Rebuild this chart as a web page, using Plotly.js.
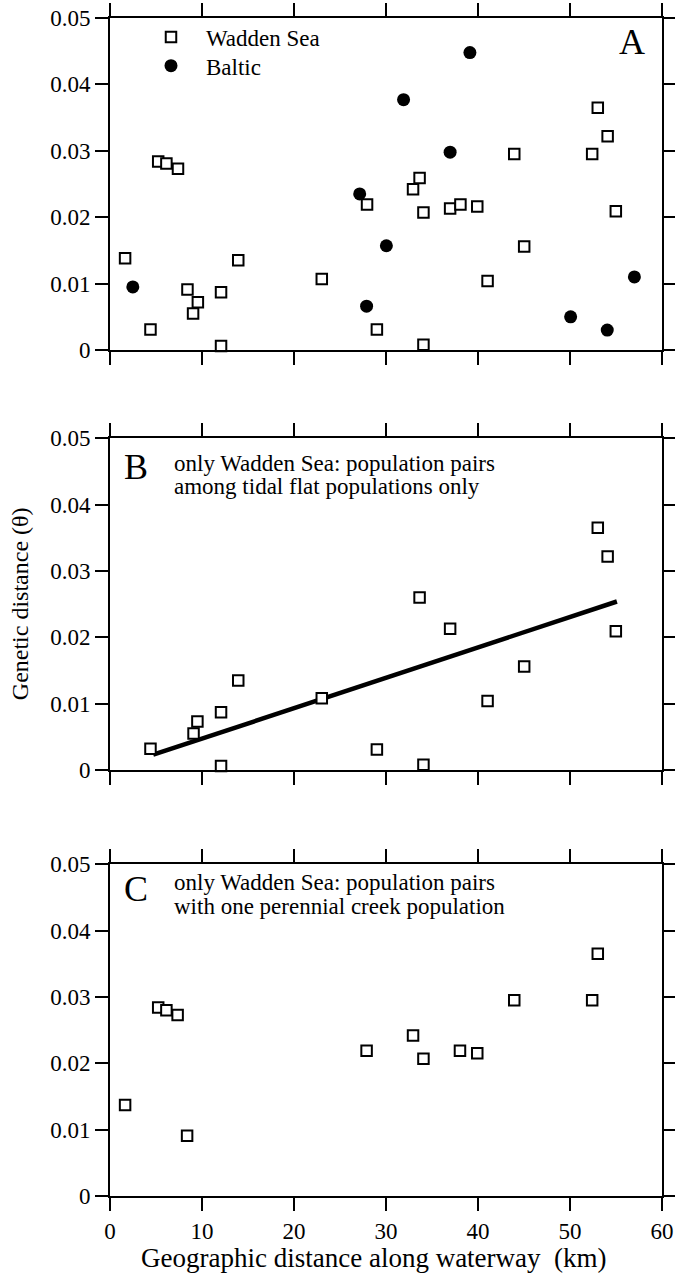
<!DOCTYPE html>
<html>
<head>
<meta charset="utf-8">
<script src="https://cdn.plot.ly/plotly-3.0.1.min.js"></script>
<style>
html,body{margin:0;padding:0;background:#fff;}
#chart{width:675px;height:1276px;}
</style>
</head>
<body>
<div id="chart"></div>
<script>
// ---- data ----
const xTickVals = [0, 10, 20, 30, 40, 50, 60];
const yTickVals = [0, 0.01, 0.02, 0.03, 0.04, 0.05];
const yTickText = ["0", "0.01", "0.02", "0.03", "0.04", "0.05"];

// Panel A: all pairs
const waddenA_km = [1.64, 4.40, 5.24, 6.13, 7.39, 8.42, 9.03, 9.55, 12.07, 12.07, 13.94, 23.02, 27.94, 29.01, 32.94, 33.65, 34.07, 34.07, 36.97, 38.09, 39.92, 41.04, 43.94, 45.02, 52.41, 53.02, 54.09, 54.98];
const waddenA_theta = [0.0138, 0.0031, 0.0284, 0.0281, 0.0273, 0.0091, 0.0055, 0.0072, 0.0087, 0.0006, 0.0135, 0.0107, 0.0219, 0.0031, 0.0242, 0.0259, 0.0207, 0.0008, 0.0213, 0.0219, 0.0216, 0.0104, 0.0295, 0.0156, 0.0295, 0.0365, 0.0322, 0.0209];
const balticA_km = [2.48, 27.14, 27.89, 30.04, 31.91, 36.97, 39.12, 50.07, 54.05, 57.0];
const balticA_theta = [0.0095, 0.0235, 0.0066, 0.0157, 0.0377, 0.0298, 0.0448, 0.0050, 0.0030, 0.0110];

// Panel B: tidal flat pairs only
const tidalB_km = [4.40, 9.08, 9.50, 12.07, 12.07, 13.94, 23.02, 29.01, 33.65, 34.07, 36.97, 41.04, 45.02, 53.02, 54.09, 54.98];
const tidalB_theta = [0.0032, 0.0055, 0.0073, 0.0087, 0.0006, 0.0135, 0.0108, 0.0031, 0.0260, 0.0008, 0.0213, 0.0104, 0.0156, 0.0365, 0.0322, 0.0209];
const fitB_km = [4.7, 55.1];
const fitB_theta = [0.0023, 0.0254];

// Panel C: pairs with one perennial creek population
const creekC_km = [1.64, 5.24, 6.13, 7.35, 8.38, 27.89, 32.94, 34.07, 38.04, 39.92, 43.94, 52.41, 53.02];
const creekC_theta = [0.0137, 0.0284, 0.0280, 0.0273, 0.0091, 0.0219, 0.0242, 0.0207, 0.0219, 0.0215, 0.0295, 0.0295, 0.0365];

// ---- styling ----
const FONT = "Liberation Serif";
const sq = {symbol: "square", size: 10.5, color: "#ffffff", line: {color: "#000", width: 2}};
const dot = {symbol: "circle", size: 13, color: "#000", line: {width: 0}};

const traces = [
  {x: waddenA_km, y: waddenA_theta, type: "scatter", mode: "markers", name: "Wadden Sea", marker: sq, xaxis: "x", yaxis: "y", cliponaxis: false, legend: "legend"},
  {x: balticA_km, y: balticA_theta, type: "scatter", mode: "markers", name: "Baltic", marker: dot, xaxis: "x", yaxis: "y", cliponaxis: false, legend: "legend2"},
  {x: fitB_km, y: fitB_theta, type: "scatter", mode: "lines", line: {color: "#000", width: 4.5}, xaxis: "x2", yaxis: "y2", showlegend: false},
  {x: tidalB_km, y: tidalB_theta, type: "scatter", mode: "markers", marker: sq, xaxis: "x2", yaxis: "y2", showlegend: false, cliponaxis: false},
  {x: creekC_km, y: creekC_theta, type: "scatter", mode: "markers", marker: sq, xaxis: "x3", yaxis: "y3", showlegend: false, cliponaxis: false}
];

function xAx(anchor, labels) {
  return {anchor: anchor, range: [0, 60], tickvals: xTickVals, ticks: "outside", ticklen: 13, tickwidth: 2,
    tickcolor: "#000", showline: true, linewidth: 2, linecolor: "#000", mirror: "ticks",
    showgrid: false, zeroline: false, showticklabels: labels, fixedrange: true, ticklabelstandoff: 0,
    tickfont: {family: FONT, size: 23, color: "#000"}};
}
function yAx(anchor, dom) {
  return {anchor: anchor, domain: dom, range: [0, 0.05], tickvals: yTickVals, ticktext: yTickText, ticks: "outside",
    ticklen: 13, tickwidth: 2, tickcolor: "#000", showline: true, linewidth: 2, linecolor: "#000",
    mirror: "ticks", showgrid: false, zeroline: false, fixedrange: true,
    tickfont: {family: FONT, size: 23, color: "#000"}};
}

const txt = (size) => ({family: FONT, size: size, color: "#000"});
const legendBase = {xanchor: "left", yanchor: "top", bgcolor: "rgba(0,0,0,0)", borderwidth: 0,
  font: {family: FONT, size: 23, color: "#000"}, itemwidth: 60};

const layout = {
  width: 675, height: 1276,
  margin: {l: 110, r: 13, t: 18, b: 80, pad: 0},
  paper_bgcolor: "#fff", plot_bgcolor: "#fff",
  font: {family: FONT, size: 23, color: "#000"},
  showlegend: true,
  legend: Object.assign({x: 0.0471, y: 1.0021}, legendBase),
  legend2: Object.assign({x: 0.0471, y: 0.9777}, legendBase),
  xaxis: xAx("y", false),
  yaxis: yAx("x", [0.71817, 1]),
  xaxis2: xAx("y2", false),
  yaxis2: yAx("x2", [0.36163, 0.64321]),
  xaxis3: xAx("y3", true),
  yaxis3: yAx("x3", [0, 0.28158]),
  annotations: [
    {text: "A", xref: "x domain", yref: "y domain", x: 0.9728, y: 0.927, xanchor: "right", yanchor: "middle", showarrow: false, font: txt(36)},
    {text: "B", xref: "x2 domain", yref: "y2 domain", x: 0.0217, y: 0.912, xanchor: "left", yanchor: "middle", showarrow: false, font: txt(36)},
    {text: "only Wadden Sea: population pairs", xref: "x2 domain", yref: "y2 domain", x: 0.1123, y: 0.925, xanchor: "left", yanchor: "middle", showarrow: false, font: txt(23)},
    {text: "among tidal flat populations only", xref: "x2 domain", yref: "y2 domain", x: 0.1123, y: 0.855, xanchor: "left", yanchor: "middle", showarrow: false, font: txt(23)},
    {text: "C", xref: "x3 domain", yref: "y3 domain", x: 0.0217, y: 0.926, xanchor: "left", yanchor: "middle", showarrow: false, font: txt(36)},
    {text: "only Wadden Sea: population pairs", xref: "x3 domain", yref: "y3 domain", x: 0.1123, y: 0.946, xanchor: "left", yanchor: "middle", showarrow: false, font: txt(23)},
    {text: "with one perennial creek population", xref: "x3 domain", yref: "y3 domain", x: 0.1123, y: 0.874, xanchor: "left", yanchor: "middle", showarrow: false, font: txt(23)},
    {text: "Genetic distance (\u03B8)", xref: "paper", yref: "paper", x: -0.163, y: 0.5024, xanchor: "center", yanchor: "middle", textangle: -90, showarrow: false, font: txt(24)},
    {text: "Geographic distance along waterway\u00A0\u00A0(km)", xref: "paper", yref: "paper", x: 0.4783, y: -0.0526, xanchor: "center", yanchor: "middle", showarrow: false, font: txt(27)}
  ]
};

Plotly.newPlot("chart", traces, layout, {staticPlot: true, displayModeBar: false});
</script>
</body>
</html>
